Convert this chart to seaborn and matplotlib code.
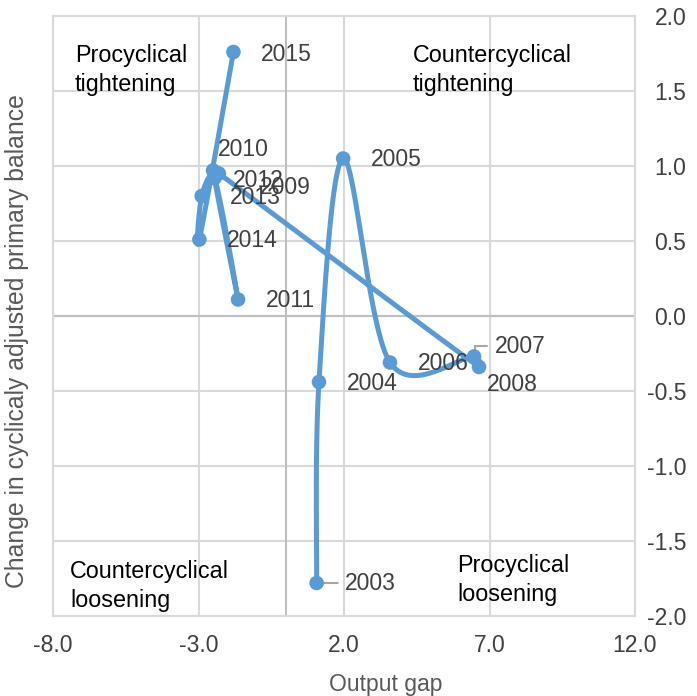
import numpy as np
import pandas as pd
import matplotlib
matplotlib.use("Agg")
import matplotlib.pyplot as plt
import seaborn as sns

# ---- data ----
years = ["2003", "2004", "2005", "2006", "2007", "2008", "2009",
         "2010", "2011", "2012", "2013", "2014", "2015"]
output_gap = [1.06, 1.14, 1.97, 3.58, 6.47, 6.64, -2.30,
              -2.50, -1.64, -2.45, -2.89, -2.97, -1.80]
capb_change = [-1.78, -0.44, 1.05, -0.31, -0.27, -0.34, 0.95,
               0.97, 0.11, 0.92, 0.80, 0.51, 1.76]
x_ticks = [-8.0, -3.0, 2.0, 7.0, 12.0]
y_ticks = [-2.0, -1.5, -1.0, -0.5, 0.0, 0.5, 1.0, 1.5, 2.0]
quadrant_texts = ["Procyclical\ntightening", "Countercyclical\ntightening",
                  "Countercyclical\nloosening", "Procyclical\nloosening"]

# ---- styling ----
W, H = 697, 696
sns.set_theme(style="white")
plt.rcParams["font.family"] = ["Liberation Sans", "DejaVu Sans"]
FS = 16.5
BLUE = "#5B9BD5"
GRID = "#d9d9d9"

fig = plt.figure(figsize=(W / 100, H / 100), dpi=100)
L, R, T, B = 53, 635, 16, 616
ax = fig.add_axes([L / W, 1 - B / H, (R - L) / W, (B - T) / H])
ax.set_xlim(x_ticks[0], x_ticks[-1])
ax.set_ylim(y_ticks[0], y_ticks[-1])

sx = (R - L) / (x_ticks[-1] - x_ticks[0])
sy = (B - T) / (y_ticks[-1] - y_ticks[0])

# grid
for xv in x_ticks:
    ax.axvline(xv, color=GRID, lw=1.5, zorder=0)
for yv in y_ticks:
    ax.axhline(yv, color=GRID, lw=1.5, zorder=0)
ax.axvline(0, color="#bfbfbf", lw=1.5, zorder=0.5)
ax.axhline(0, color="#bfbfbf", lw=1.5, zorder=0.5)
for s in ax.spines.values():
    s.set_color(GRID)
    s.set_linewidth(1.5)

# smoothed line (Excel-like Bezier smoothing in screen space, clamped tangents)
P = np.column_stack([np.array(output_gap) * sx, np.array(capb_change) * sy])
n = len(P)
ext = np.vstack([P[0], P, P[-1]])
curve = []
t = np.linspace(0, 1, 60)[:, None]


def ctrl(a, b, c_prev, c_next):
    d = c_next - c_prev
    dn = np.hypot(*d)
    seg = np.hypot(*(b - a))
    f = 1 / 6
    if dn > 0 and dn * f > seg / 2:
        f = seg / 2 / dn
    return d * f


for i in range(n - 1):
    p0, p1, p2, p3 = ext[i], ext[i + 1], ext[i + 2], ext[i + 3]
    b1 = p1 + ctrl(p1, p2, p0, p2)
    b2 = p2 - ctrl(p1, p2, p1, p3)
    seg = ((1 - t) ** 3) * p1 + 3 * ((1 - t) ** 2) * t * b1 + 3 * (1 - t) * t ** 2 * b2 + t ** 3 * p2
    curve.append(seg if i == 0 else seg[1:])
curve = np.vstack(curve)
cdf = pd.DataFrame({"x": curve[:, 0] / sx, "y": curve[:, 1] / sy})
sns.lineplot(data=cdf, x="x", y="y", sort=False, estimator=None, color=BLUE,
             lw=3.6, ax=ax, zorder=3)

df = pd.DataFrame({"year": years, "gap": output_gap, "capb": capb_change})
sns.scatterplot(data=df, x="gap", y="capb", color=BLUE, s=110, edgecolor="none",
                ax=ax, zorder=4)

# data labels (offsets in pixels from the point)
offsets = {"2007": (21, 10), "2008": (8, -17), "2009": (41, -14),
           "2010": (5, 21), "2012": (18, -2), "2015": (27, -2)}
for yr, xv, yv in zip(years, output_gap, capb_change):
    dx, dy = offsets.get(yr, (28, -1))
    ax.annotate(yr, (xv, yv), xytext=(dx, dy), textcoords="offset pixels",
                ha="left", va="center", fontsize=FS, color="#404040", zorder=5)

# leader lines
i03 = years.index("2003")
ax.annotate("", (output_gap[i03], capb_change[i03]), xytext=(21, 0),
            textcoords="offset pixels",
            arrowprops=dict(arrowstyle="-", color="#a6a6a6", lw=1.5,
                            shrinkA=0, shrinkB=0), zorder=3.5)
i07 = years.index("2007")
x7, y7 = output_gap[i07], capb_change[i07]
ax.plot([x7 + 1 / sx, x7 + 1 / sx, x7 + 13 / sx], [y7 + 2 / sy, y7 + 11 / sy, y7 + 11 / sy],
        color="#a6a6a6", lw=1.5, zorder=3.5)


def px2data(px, py):
    return x_ticks[0] + (px - L) / sx, y_ticks[-1] - (py - T) / sy


q_pos = [(75, 70), (413, 70), (70, 586), (457, 580)]
for txt, (px, py) in zip(quadrant_texts, q_pos):
    xd, yd = px2data(px, py)
    ax.text(xd, yd, txt, fontsize=16.8, color="black", ha="left", va="center",
            linespacing=1.3, zorder=5)

# ticks
ax.set_xticks(x_ticks)
ax.set_xticklabels([f"{v:.1f}" for v in x_ticks])
ax.set_yticks(y_ticks)
ax.set_yticklabels([f"{v:.1f}" for v in y_ticks])
ax.yaxis.tick_right()
for lab in ax.get_yticklabels():
    lab.set_horizontalalignment("right")
ax.tick_params(axis="y", length=0, pad=37, labelsize=FS, labelcolor="#404040")
ax.tick_params(axis="x", length=0, pad=13, labelsize=FS, labelcolor="#404040")
ax.set_xlabel("")
ax.set_ylabel("")

fig.text(386 / W, 1 - 684 / H, "Output gap", ha="center", va="center",
         fontsize=FS, color="#595959")
fig.text(17 / W, 1 - 341 / H, "Change in cyclicaly adjusted primary balance",
         rotation=90, ha="center", va="center", fontsize=17.8, color="#595959")

fig.savefig("out.png", dpi=100)
